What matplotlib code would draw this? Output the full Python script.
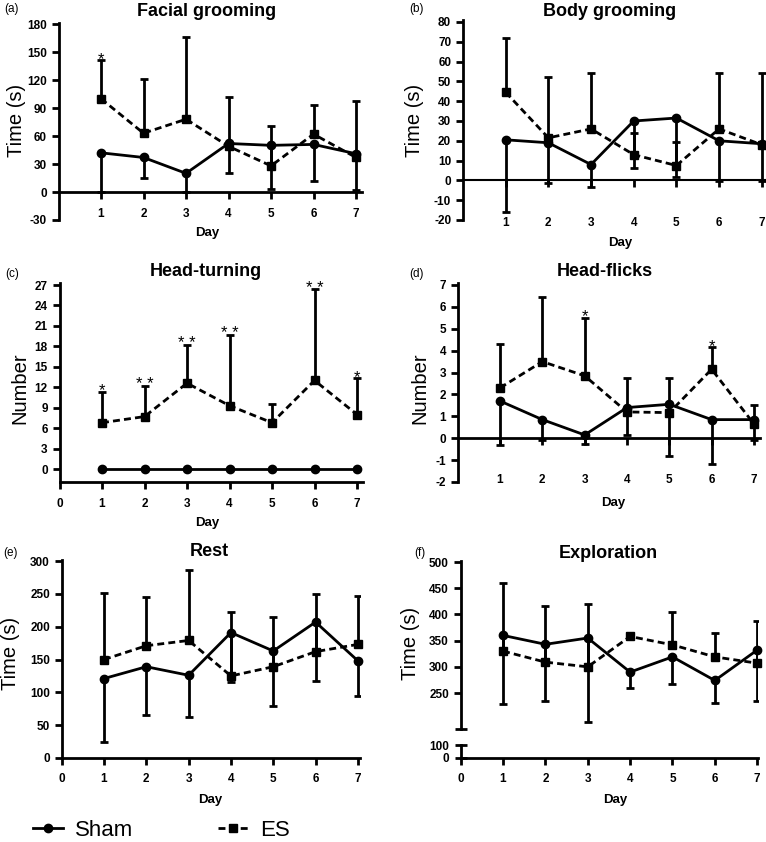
import matplotlib.pyplot as plt
from matplotlib.ticker import FixedLocator, NullFormatter

plt.rcParams['font.family'] = ['Liberation Sans', 'DejaVu Sans']
plt.rcParams['axes.unicode_minus'] = False

# ------ data ------
days = [1, 2, 3, 4, 5, 6, 7]

# (a) facial grooming, time (s)
facial_sham = [42, 37, 20, 52, 50, 51, 41]
facial_sham_lo = [0, 15, 0, 20, 3, 12, 2]
facial_es = [100, 63, 78, 49, 28, 62, 37]
facial_es_hi = [141, 121, 166, 102, 71, 93, 97]
facial_stars = ['*', '', '', '', '', '', '']

# (b) body grooming, time (s)
body_sham = [20.5, 19, 8, 30, 31.5, 20, 18.5]
body_sham_lo = [-16, -1.5, -3.5, 6.5, 1.5, -0.3, -0.5]
body_es = [44.5, 21.5, 26, 13, 7.5, 26, 18]
body_es_hi = [72, 52, 54, 24, 19.5, 54, 54]
body_stars = ['', '', '', '', '', '', '']

# (c) head-turning, number
turning_sham = [0, 0, 0, 0, 0, 0, 0]
turning_sham_lo = None
turning_es = [6.8, 7.7, 12.6, 9.3, 6.8, 13.0, 8.0]
turning_es_hi = [11.3, 12.2, 18.2, 19.7, 9.6, 26.4, 13.3]
turning_stars = ['*', '**', '**', '**', '', '**', '*']

# (d) head-flicks, number
flicks_sham = [1.7, 0.85, 0.15, 1.4, 1.55, 0.85, 0.85]
flicks_sham_lo = [-0.3, -0.1, -0.25, 0.15, -0.8, -1.2, -0.1]
flicks_es = [2.3, 3.5, 2.85, 1.2, 1.17, 3.15, 0.65]
flicks_es_hi = [4.3, 6.45, 5.5, 2.75, 2.75, 4.15, 1.5]
flicks_stars = ['', '', '*', '', '', '*', '']

# (e) rest, time (s)
rest_sham = [121, 139, 126, 191, 163, 207, 148]
rest_sham_lo = [24, 65, 63, 115, 79, 118, 95]
rest_es = [150, 171, 179, 125, 139, 162, 173]
rest_es_hi = [251, 245, 287, 222, 215, 250, 246]
rest_stars = ['', '', '', '', '', '', '']

# (f) exploration, time (s)
explore_sham = [360, 343, 355, 290, 319, 274, 332]
explore_sham_lo = [230, 235, 194, 259, 267, 231, 235]
explore_es = [330, 309, 300, 358, 342, 319, 307]
explore_es_hi = [460, 417, 419, 364, 404, 365, 388]
explore_stars = ['', '', '', '', '', '', '']

# ------ figure in pixel units ------
W, H = 766, 842
fig = plt.figure(figsize=(W / 100, H / 100), dpi=100)

LW = 2
DASH = (0, (2.5, 1.5))


def px_axes(l, r, t, b):
    return fig.add_axes([l / W, 1 - b / H, (r - l) / W, (b - t) / H])


def px_text(x, y, s, **kw):
    fig.text(x / W, 1 - y / H, s, ha='center', va='center', **kw)


def bold_ticks(ax, size=8.5):
    ax.tick_params(labelsize=size)
    for lab in ax.get_xticklabels() + ax.get_yticklabels():
        lab.set_fontweight('bold')


def style_axes(ax, xlim, ylim, yticks):
    ax.set_xlim(*xlim)
    ax.set_ylim(*ylim)
    ax.set_yticks(yticks)
    ax.spines['top'].set_visible(False)
    ax.spines['right'].set_visible(False)
    for s in ['left', 'bottom']:
        ax.spines[s].set_linewidth(LW)
    ax.tick_params(direction='out', length=5, width=LW)
    ax.patch.set_alpha(0)


def draw_data(ax, sham, sham_lo, es, es_hi, stars):
    # sham error bars point down, ES error bars point up
    if sham_lo is not None:
        lo = [m - l for m, l in zip(sham, sham_lo)]
        eb = ax.errorbar(days, sham, yerr=[lo, [0] * len(days)], fmt='none',
                         ecolor='black', elinewidth=LW, capsize=3, capthick=LW, zorder=2)
        eb[1][1].set_visible(False)
    hi = [h - m for m, h in zip(es, es_hi)]
    eb = ax.errorbar(days, es, yerr=[[0] * len(days), hi], fmt='none',
                     ecolor='black', elinewidth=LW, capsize=3, capthick=LW, zorder=2)
    eb[1][0].set_visible(False)
    l_sham, = ax.plot(days, sham, '-o', color='black', lw=LW, ms=6, zorder=3,
                      clip_on=False)
    l_es, = ax.plot(days, es, linestyle=DASH, marker='s', color='black', lw=LW,
                    ms=5.5, zorder=3, clip_on=False)
    for d, h, s in zip(days, es_hi, stars):
        if s:
            ax.annotate(' '.join(s), (d, h), xytext=(0, -2.5), textcoords='offset points',
                        ha='center', va='baseline', fontsize=12)
    return l_sham, l_es


# ------ (a) Facial grooming ------
ax = px_axes(58.5, 362.4, 23.1, 220)
style_axes(ax, (0, 7.15), (-30, 181), range(-30, 181, 30))
ax.spines['bottom'].set_position(('data', 0))
ax.set_xticks(days)
ax.tick_params(axis='x', pad=6.5)
h_sham, h_es = draw_data(ax, facial_sham, facial_sham_lo, facial_es, facial_es_hi, facial_stars)
bold_ticks(ax)

# ------ (b) Body grooming ------
ax = px_axes(463, 766, 20, 220)
style_axes(ax, (0, 7.1), (-20, 81), range(-20, 81, 10))
ax.spines['bottom'].set_position(('data', 0))
ax.spines['bottom'].set_linewidth(1.5)
ax.set_xticks(days)
ax.tick_params(axis='x', pad=21.5)
draw_data(ax, body_sham, body_sham_lo, body_es, body_es_hi, body_stars)
bold_ticks(ax)

# ------ (c) Head-turning ------
ax = px_axes(59.5, 363.4, 283, 482)
style_axes(ax, (0, 7.15), (-1.9, 27.3), range(0, 28, 3))
ax.set_xticks(range(0, 8))
ax.tick_params(axis='x', pad=6.5)
draw_data(ax, turning_sham, turning_sham_lo, turning_es, turning_es_hi, turning_stars)
bold_ticks(ax)

# ------ (d) Head-flicks ------
ax = px_axes(457.7, 759.9, 282.8, 482)
style_axes(ax, (0, 7.14), (-2, 7.1), range(-2, 8))
ax.spines['bottom'].set_position(('data', 0))
ax.set_xticks(days)
ax.tick_params(axis='x', pad=21)
draw_data(ax, flicks_sham, flicks_sham_lo, flicks_es, flicks_es_hi, flicks_stars)
bold_ticks(ax)

# ------ (e) Rest ------
ax = px_axes(61.7, 360, 559.7, 758)
style_axes(ax, (0, 7.05), (0, 302), range(0, 301, 50))
ax.set_xticks(range(0, 8))
ax.tick_params(axis='x', pad=5.5)
draw_data(ax, rest_sham, rest_sham_lo, rest_es, rest_es_hi, rest_stars)
bold_ticks(ax)

# ------ (f) Exploration, broken y axis ------
ax = px_axes(460.7, 758, 561, 729.2)
style_axes(ax, (0, 7.02), (181, 502), range(250, 501, 50))
ax.spines['bottom'].set_visible(False)
ax.set_xticks([])
ax.yaxis.set_minor_locator(FixedLocator([181]))
ax.yaxis.set_minor_formatter(NullFormatter())
ax.tick_params(axis='y', which='minor', direction='inout', length=9, width=LW)
draw_data(ax, explore_sham, explore_sham_lo, explore_es, explore_es_hi, explore_stars)
bold_ticks(ax)

ax = px_axes(460.7, 758, 745, 758)
style_axes(ax, (0, 7.02), (0, 100), [0, 100])
ax.set_xticks(range(0, 8))
ax.tick_params(axis='y', direction='inout', length=9)
ax.tick_params(axis='x', pad=5.5)
bold_ticks(ax)

# ------ titles, panel letters, axis labels ------
titles = [('Facial grooming', 207, 12), ('Body grooming', 610, 12),
          ('Head-turning', 206, 271), ('Head-flicks', 605, 271),
          ('Rest', 209, 552), ('Exploration', 608, 553)]
for s, x, y in titles:
    px_text(x, y, s, fontsize=13, fontweight='bold')

letters = [('(a)', 12, 9), ('(b)', 416, 9), ('(c)', 12, 274),
           ('(d)', 417, 274), ('(e)', 11, 553), ('(f)', 420, 553)]
for s, x, y in letters:
    px_text(x, y, s, fontsize=8.5)

ylabels = [('Time (s)', 17, 120), ('Time (s)', 415, 120), ('Number', 20, 388),
           ('Number', 420, 388), ('Time (s)', 10, 653), ('Time (s)', 411, 643)]
for s, x, y in ylabels:
    px_text(x, y, s, fontsize=14.5, rotation=90)

xlabels = [(207, 233), (620, 243), (207, 523), (613, 503), (210, 800), (615, 800)]
for x, y in xlabels:
    px_text(x, y, 'Day', fontsize=9.5, fontweight='bold')

# ------ legend ------
fig.legend([h_sham, h_es], ['Sham', 'ES'], loc='center left',
           bbox_to_anchor=(33 / W, 1 - 830 / H), ncol=2, frameon=False,
           fontsize=16, handlelength=1.35, handletextpad=0.55,
           columnspacing=3.8, borderpad=0, borderaxespad=0)

fig.savefig('out.png', dpi=100)
